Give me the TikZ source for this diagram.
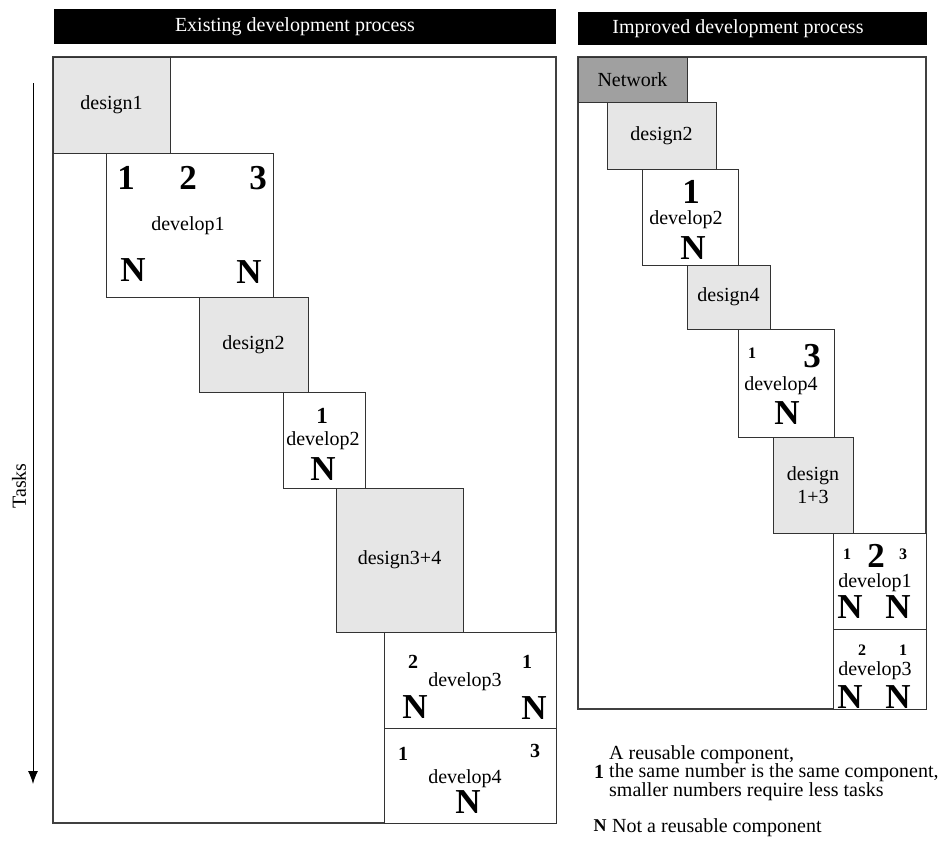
\documentclass[tikz,border=0pt]{standalone}
\usepackage{fontspec}
\setmainfont{Liberation Serif}
\usetikzlibrary{arrows.meta}

\definecolor{lightfill}{HTML}{E6E6E6}
\definecolor{darkfill}{HTML}{A0A0A0}

\tikzset{
  txt/.style={inner sep=0pt, font=\fontsize{20}{22}\selectfont},
  bignum/.style={inner sep=0pt, font=\fontsize{35}{35}\selectfont\bfseries},
  midnum/.style={inner sep=0pt, font=\fontsize{23}{23}\selectfont\bfseries},
  smallnum/.style={inner sep=0pt, font=\fontsize{20}{20}\selectfont\bfseries},
  tinynum/.style={inner sep=0pt, font=\fontsize{16}{16}\selectfont\bfseries},
  area/.style={draw=black!75, line width=1.2pt, fill=white, anchor=north west,
    inner sep=0pt, outer sep=0pt},
  taskbox/.style={draw=black!80, line width=1pt, anchor=north west,
    inner sep=0pt, outer sep=0pt, align=center,
    font=\fontsize{20}{23}\selectfont},
  designbox/.style={taskbox, fill=lightfill},
  devbox/.style={taskbox, fill=white},
  netbox/.style={taskbox, fill=darkfill},
  titlebar/.style={fill=black, anchor=north west, inner sep=0pt, outer sep=0pt},
  titletext/.style={txt, text=white},
  legendline/.style={txt, anchor=base west},
}

\begin{document}
\begin{tikzpicture}[x=1pt, y=-1pt]
\useasboundingbox (0,0) rectangle (952,846);

% ---------- existing process ----------
\node[titlebar, minimum width=502pt, minimum height=35pt] (ltitle) at (54,9) {};
\node[titletext] (ltitletext) at (295,27) {Existing development process};

\node[area, minimum width=503pt, minimum height=766pt] (lframe) at (53,57) {};

\node[designbox, minimum width=117pt, minimum height=96pt] (ldesign1) at (53,57) {design1};
\node[devbox, minimum width=167pt, minimum height=144pt] (ldevelop1) at (106,153) {};
\node[designbox, minimum width=109pt, minimum height=95pt] (ldesign2) at (199,297) {design2};
\node[devbox, minimum width=82pt, minimum height=96pt] (ldevelop2) at (283,392) {};
\node[designbox, minimum width=127pt, minimum height=144pt] (ldesign34) at (336,488) {design3+4};
\node[devbox, minimum width=172pt, minimum height=96pt] (ldevelop3) at (384,632) {};
\node[devbox, minimum width=172pt, minimum height=95pt] (ldevelop4) at (384,728) {};

% develop1 contents
\node[bignum] (l1a) at (126,178) {1};
\node[bignum] (l1b) at (188,178) {2};
\node[bignum] (l1c) at (258,178) {3};
\node[txt] (l1lab) at (188,226) {develop1};
\node[bignum] (l1n1) at (133,270) {N};
\node[bignum] (l1n2) at (249,272) {N};

% develop2 contents
\node[midnum] (l2a) at (322,416) {1};
\node[txt] (l2lab) at (323,441) {develop2};
\node[bignum] (l2n) at (323,469) {N};

% develop3 contents
\node[smallnum] (l3a) at (413,662) {2};
\node[smallnum] (l3b) at (527,662) {1};
\node[txt] (l3lab) at (465,682) {develop3};
\node[bignum] (l3n1) at (415,707) {N};
\node[bignum] (l3n2) at (534,708) {N};

% develop4 contents
\node[smallnum] (l4a) at (403,754) {1};
\node[smallnum] (l4b) at (535,751) {3};
\node[txt] (l4lab) at (465,779) {develop4};
\node[bignum] (l4n) at (468,802) {N};

% time axis
\coordinate (taskstart) at (33,83);
\coordinate (taskend) at (33,784);
\draw[line width=1pt, -{Latex[length=13pt, width=10pt]}] (taskstart) -- (taskend);
\node[txt, rotate=90] (tasks) at (19,486) {Tasks};

% ---------- improved process ----------
\node[titlebar, minimum width=349pt, minimum height=33pt] (rtitle) at (578,12) {};
\node[titletext] (rtitletext) at (738,29) {Improved development process};

\node[area, minimum width=348pt, minimum height=652pt] (rframe) at (578,57) {};

\node[netbox, minimum width=109pt, minimum height=45pt] (network) at (578,57) {Network};
\node[designbox, minimum width=109pt, minimum height=67pt] (rdesign2) at (607,102) {design2};
\node[devbox, minimum width=96pt, minimum height=96pt] (rdevelop2) at (642,169) {};
\node[designbox, minimum width=83pt, minimum height=64pt] (rdesign4) at (687,265) {design4};
\node[devbox, minimum width=96pt, minimum height=108pt] (rdevelop4) at (738,329) {};
\node[designbox, minimum width=80pt, minimum height=96pt] (rdesign13) at (773,437) {design\\1+3};
\node[devbox, minimum width=93pt, minimum height=96pt] (rdevelop1) at (833,533) {};
\node[devbox, minimum width=93pt, minimum height=80pt] (rdevelop3) at (833,629) {};

% develop2 contents
\node[bignum] (r2a) at (691,192) {1};
\node[txt] (r2lab) at (686,220) {develop2};
\node[bignum] (r2n) at (693,248) {N};

% develop4 contents
\node[tinynum] (r4a) at (752,353) {1};
\node[bignum] (r4b) at (812,356) {3};
\node[txt] (r4lab) at (781,386) {develop4};
\node[bignum] (r4n) at (787,413) {N};

% develop1 contents
\node[tinynum] (r1a) at (847,554) {1};
\node[bignum] (r1b) at (876,556) {2};
\node[tinynum] (r1c) at (903,554) {3};
\node[txt] (r1lab) at (875,583) {develop1};
\node[bignum] (r1n1) at (850,607) {N};
\node[bignum] (r1n2) at (898,607) {N};

% develop3 contents
\node[tinynum] (r3a) at (862,650) {2};
\node[tinynum] (r3b) at (903,650) {1};
\node[txt] (r3lab) at (875,671) {develop3};
\node[bignum] (r3n1) at (850,697) {N};
\node[bignum] (r3n2) at (898,697) {N};

% ---------- legend ----------
\node[smallnum] (legone) at (599,772) {1};
\node[legendline] (legline1) at (609,759) {A reusable component,};
\node[legendline] (legline2) at (609,777.5) {the same number is the same component,};
\node[legendline] (legline3) at (609,796) {smaller numbers require less tasks};
\node[inner sep=0pt, font=\fontsize{18}{18}\selectfont\bfseries] (legn) at (600,826) {N};
\node[legendline] (legntext) at (612,832) {Not a reusable component};

\end{tikzpicture}
\end{document}
